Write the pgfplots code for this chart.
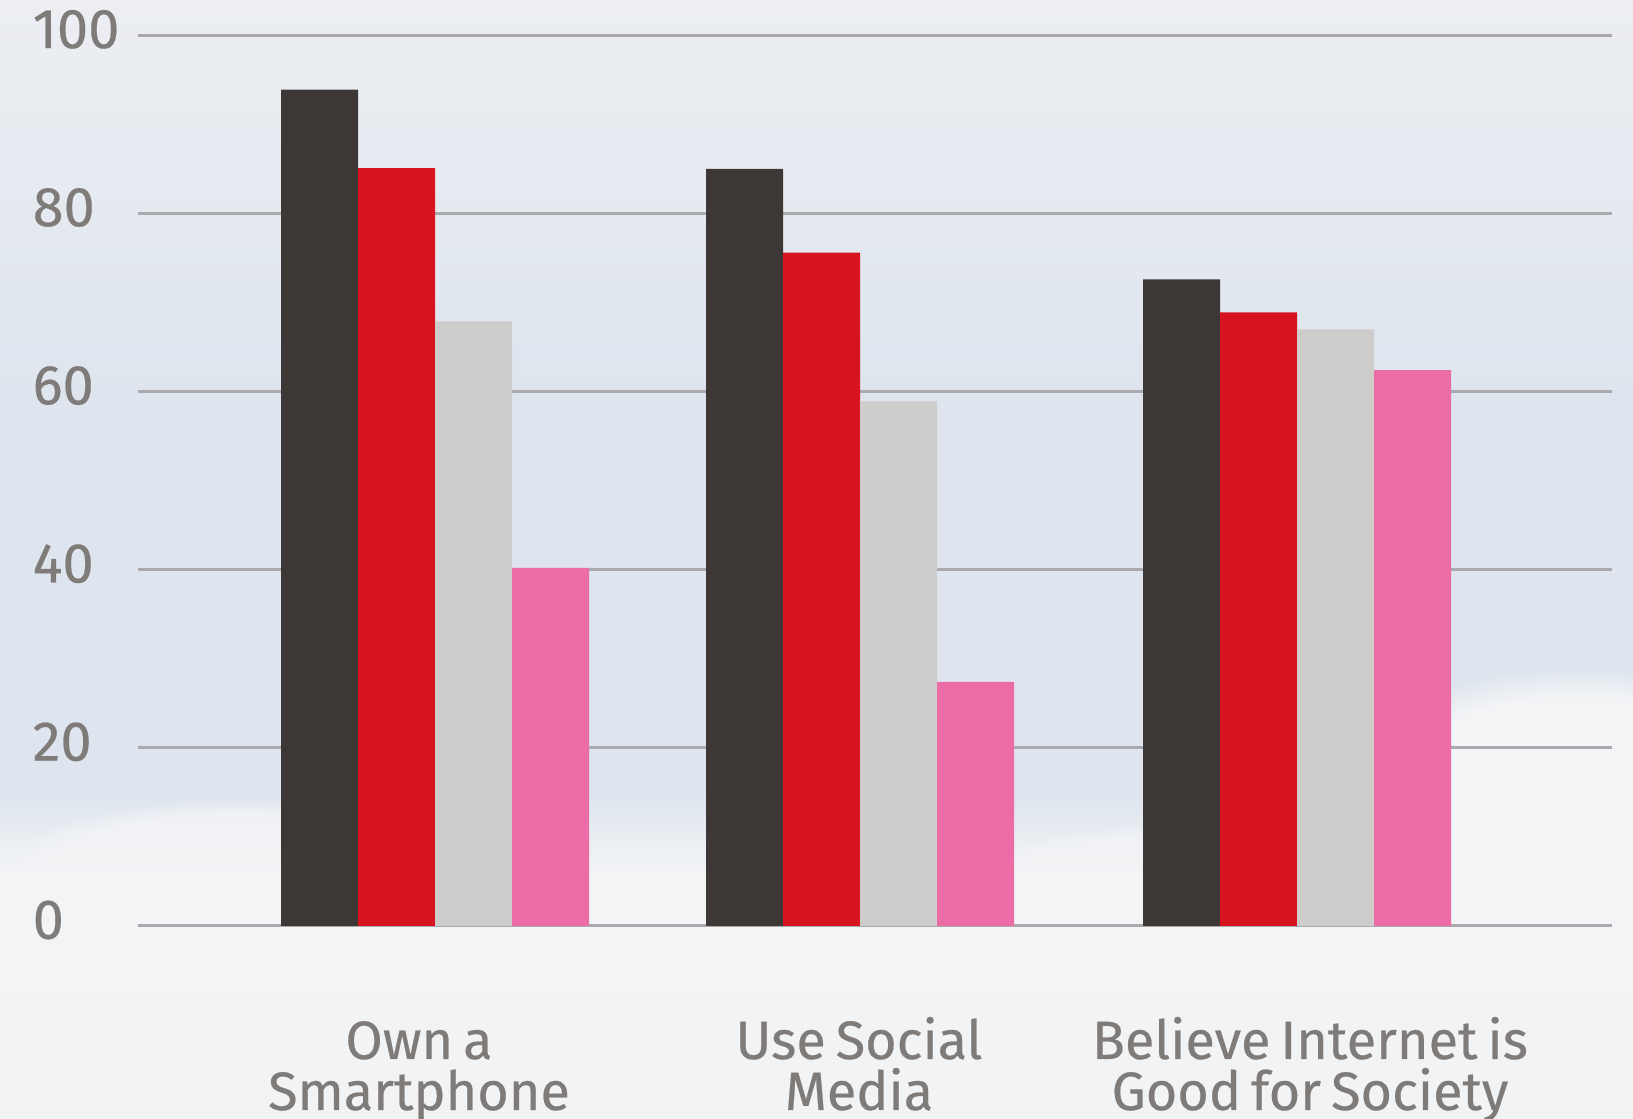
\documentclass[border=0pt]{standalone}
\usepackage{pgfplots}
\pgfplotsset{compat=1.18}
\usepackage{fontspec}
\setmainfont{Fira Sans}[FakeBold=0.4, WordSpace=0.7]
\usetikzlibrary{fadings}
\definecolor{cdark}{HTML}{3D3835}
\definecolor{cred}{HTML}{D7141F}
\definecolor{cgray}{HTML}{CFCDCB}
\definecolor{cpink}{HTML}{EC6CA5}
\definecolor{ctext}{HTML}{7F7B79}
\definecolor{cgrid}{HTML}{A9A9AE}
\definecolor{bgtop}{HTML}{ECEEF2}
\definecolor{bgup}{HTML}{E7EBF1}
\definecolor{bgmid}{HTML}{DEE5EE}
\definecolor{bgcloud}{HTML}{F3F4F6}
\definecolor{bgbot}{HTML}{F2F3F5}
\pgfdeclareverticalshading{sky}{100bp}{%
  color(0bp)=(bgbot); color(25bp)=(bgbot); color(36bp)=(bgcloud);
  color(39.5bp)=(bgmid); color(57bp)=(bgmid); color(68bp)=(bgup);
  color(75bp)=(bgtop); color(100bp)=(bgtop)}
\begin{document}
\begin{tikzpicture}
\shade[shading=sky] (0,0) rectangle (408.25pt,279.75pt);
\fill[bgcloud, path fading=circle with fuzzy edge 20 percent] (395pt,75pt) ellipse (70pt and 38pt);
\fill[bgcloud, opacity=0.8, path fading=circle with fuzzy edge 20 percent] (60pt,62pt) ellipse (60pt and 18pt);
\fill[bgcloud, opacity=0.7, path fading=circle with fuzzy edge 20 percent] (300pt,60pt) ellipse (60pt and 14pt);
\begin{axis}[
  at={(34.375pt,48.25pt)}, anchor=south west,
  scale only axis, width=368.625pt, height=222.65pt,
  xmin=137.5, xmax=1612, ymin=0, ymax=100,
  axis line style={draw=none},
  ymajorgrids, grid style={cgrid, line width=0.75pt},
  major tick length=0pt,
  ytick={0,20,40,60,80,100},
  yticklabel style={anchor=west, inner sep=0pt, xshift=-26.4pt, yshift=1.5pt, text=ctext,
    font=\fontsize{14}{13}\selectfont},
  /pgf/number format/assume math mode=true,
  xtick={419,859,1310},
  xticklabels={{Own a\\Smartphone},{Use Social\\Media},{Believe Internet is\\Good for Society}},
  xticklabel style={align=center, anchor=base, inner sep=0pt, yshift=-46pt, text=ctext,
    font=\fontsize{13.5}{12.75}\selectfont},
]
\addplot[ybar, bar width=77, bar shift=0pt, fill=cdark, draw=none] coordinates {(319.5,93.9) (744.5,85.0) (1181.5,72.6)};
\addplot[ybar, bar width=77, bar shift=0pt, fill=cred, draw=none] coordinates {(396.5,85.1) (821.5,75.6) (1258.5,68.9)};
\addplot[ybar, bar width=77, bar shift=0pt, fill=cgray, draw=none] coordinates {(473.5,67.9) (898.5,58.9) (1335.5,67.0)};
\addplot[ybar, bar width=77, bar shift=0pt, fill=cpink, draw=none] coordinates {(550.5,40.2) (975.5,27.4) (1412.5,62.4)};
\end{axis}
\pgfresetboundingbox
\path (0,0) rectangle (408.25pt,279.75pt);
\end{tikzpicture}
\end{document}
